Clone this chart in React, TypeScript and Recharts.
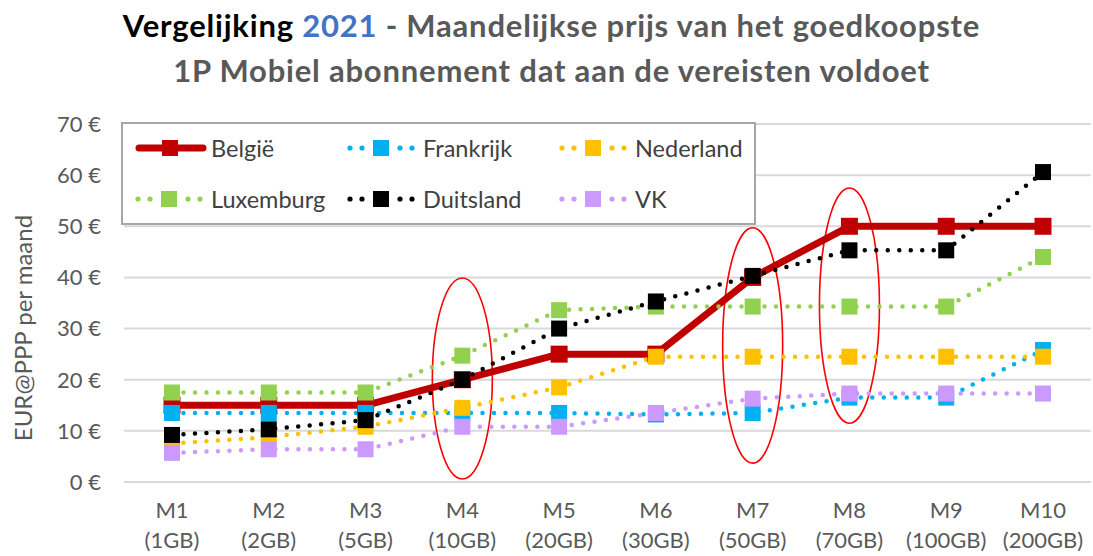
import { LineChart, Line, XAxis, YAxis, CartesianGrid, Legend, ReferenceArea } from "recharts";

const months = ["M1", "M2", "M3", "M4", "M5", "M6", "M7", "M8", "M9", "M10"];
const volumes = ["(1GB)", "(2GB)", "(5GB)", "(10GB)", "(20GB)", "(30GB)", "(50GB)", "(70GB)", "(100GB)", "(200GB)"];

const belgie = [15, 15, 15, 20, 25, 25, 40, 50, 50, 50];
const frankrijk = [13.5, 13.5, 13.5, 13.5, 13.5, 13.2, 13.5, 16.5, 16.5, 25.8];
const nederland = [7.5, 8.8, 10.8, 14.5, 18.5, 24.5, 24.5, 24.5, 24.5, 24.5];
const luxemburg = [17.5, 17.5, 17.5, 24.7, 33.6, 34.3, 34.3, 34.3, 34.3, 44];
const duitsland = [9.2, 10.3, 12.1, 20, 30, 35.3, 40.3, 45.3, 45.3, 60.6];
const vk = [5.7, 6.4, 6.4, 10.8, 10.8, 13.5, 16.3, 17.3, 17.3, 17.3];

const yTicks = [0, 10, 20, 30, 40, 50, 60, 70];

// circled months in the original slide
const highlightMonths = ["M4", "M7", "M8"];
const highlightLow = [0.6, 3.7, 11.5];
const highlightHigh = [39.9, 49.7, 57.5];

const series = [
  { name: "België", values: belgie, color: "#c00000", solid: true },
  { name: "Frankrijk", values: frankrijk, color: "#00b0f0", solid: false },
  { name: "Nederland", values: nederland, color: "#ffc000", solid: false },
  { name: "Luxemburg", values: luxemburg, color: "#92d050", solid: false },
  { name: "Duitsland", values: duitsland, color: "#000000", solid: false },
  { name: "VK", values: vk, color: "#cc99ff", solid: false },
];

const data = months.map((m, i) => {
  const row: { [key: string]: string | number } = { month: m };
  series.forEach((s) => {
    row[s.name] = s.values[i];
  });
  return row;
});

const FONT = "Lato, 'Open Sans', sans-serif";
const GREY = "#595959";

const squareDot = (color: string, size: number) => (props: any) => {
  const { cx, cy, index } = props;
  if (cx == null || cy == null) return <g key={`e-${index}`} />;
  return (
    <rect
      key={`sq-${index}`}
      x={cx - size / 2}
      y={cy - size / 2}
      width={size}
      height={size}
      fill={color}
    />
  );
};

const MonthTick = (props: any) => {
  const { x, y, payload } = props;
  const i = months.indexOf(payload.value);
  return (
    <text x={x} y={y} textAnchor="middle" fill={GREY} fontSize={22} fontFamily={FONT}>
      <tspan x={x} dy={28}>
        {payload.value}
      </tspan>
      <tspan x={x} dy={30}>
        {volumes[i]}
      </tspan>
    </text>
  );
};

const Ellipse = (props: any) => {
  const { x, y, width, height } = props;
  return (
    <ellipse
      cx={x + width / 2}
      cy={y + height / 2}
      rx={30}
      ry={Math.abs(height) / 2}
      fill="none"
      stroke="#ff0000"
      strokeWidth={1.6}
    />
  );
};

const LegendIcon = ({ color, solid }: { color: string; solid: boolean }) => (
  <svg width={72} height={20} style={{ display: "block", flex: "none" }}>
    {solid ? (
      <line x1={4} y1={10} x2={68} y2={10} stroke={color} strokeWidth={7} strokeLinecap="round" />
    ) : (
      [3, 15, 53, 65].map((dx) => <circle key={dx} cx={dx} cy={10} r={2.6} fill={color} />)
    )}
    <rect x={solid ? 27 : 26} y={2} width={16} height={16} fill={color} />
  </svg>
);

const renderLegend = () => (
  <div
    style={{
      boxSizing: "border-box",
      width: 635,
      height: 103,
      border: "2px solid #a6a6a6",
      background: "#fff",
      position: "relative",
    }}
  >
    {series.map((s, i) => (
      <div
        key={s.name}
        style={{
          position: "absolute",
          left: 12 + (i % 3) * 212,
          top: 11 + Math.floor(i / 3) * 51,
          display: "flex",
          alignItems: "center",
          height: 26,
        }}
      >
        <LegendIcon color={s.color} solid={s.solid} />
        <span
          style={{
            marginLeft: 4,
            fontFamily: FONT,
            fontSize: 23.5,
            color: "#404040",
            whiteSpace: "nowrap",
          }}
        >
          {s.name}
        </span>
      </div>
    ))}
  </div>
);

export default function App() {
  return (
    <div style={{ position: "absolute", left: 0, top: 0, width: 1093, height: 556, background: "#fff" }}>
      <div
        style={{
          position: "absolute",
          left: 5,
          top: 3,
          width: 1093,
          textAlign: "center",
          fontFamily: FONT,
          fontWeight: 700,
          fontSize: 31,
          letterSpacing: 0.8,
          lineHeight: "45px",
          color: GREY,
          zIndex: 2,
        }}
      >
        <div>
          <span style={{ color: "#000" }}>Vergelijking </span>
          <span style={{ color: "#4472c4" }}>2021</span>
          <span> - Maandelijkse prijs van het goedkoopste</span>
        </div>
        <div>1P Mobiel abonnement dat aan de vereisten voldoet</div>
      </div>
      <LineChart
        width={1093}
        height={556}
        data={data}
        margin={{ top: 124, right: 2, bottom: 0, left: 0 }}
      >
        <CartesianGrid vertical={false} stroke="#d9d9d9" strokeWidth={2} />
        <XAxis
          dataKey="month"
          axisLine={false}
          tickLine={false}
          height={74}
          padding={{ left: 48, right: 48 }}
          interval={0}
          tick={<MonthTick />}
        />
        <YAxis
          width={124}
          domain={[0, 70]}
          ticks={yTicks}
          axisLine={false}
          tickLine={false}
          tickMargin={17}
          tickFormatter={(v: number) => `${v} €`}
          tick={{ fill: GREY, fontSize: 22, fontFamily: FONT }}
          label={{
            content: () => (
              <text
                x={22}
                y={328}
                transform="rotate(-90, 22, 328)"
                textAnchor="middle"
                dominantBaseline="central"
                fill={GREY}
                fontSize={24}
                fontFamily={FONT}
              >
                EUR@PPP per maand
              </text>
            ),
          }}
        />
        <Legend
          layout="horizontal"
          verticalAlign="middle"
          align="center"
          content={renderLegend}
          wrapperStyle={{ left: 121, top: 122, width: 635, height: 103 }}
        />
        {series.map((s) => (
          <Line
            key={s.name}
            type="linear"
            dataKey={s.name}
            stroke={s.color}
            strokeWidth={s.solid ? 7 : 4.5}
            strokeDasharray={s.solid ? undefined : "0 11.5"}
            strokeLinecap="round"
            strokeLinejoin="round"
            dot={squareDot(s.color, s.solid ? 17 : 16)}
            activeDot={false}
            isAnimationActive={false}
          />
        ))}
        {highlightMonths.map((m, i) => (
          <ReferenceArea
            key={m}
            x1={m}
            x2={m}
            y1={highlightLow[i]}
            y2={highlightHigh[i]}
            shape={<Ellipse />}
            ifOverflow="visible"
          />
        ))}
      </LineChart>
    </div>
  );
}
